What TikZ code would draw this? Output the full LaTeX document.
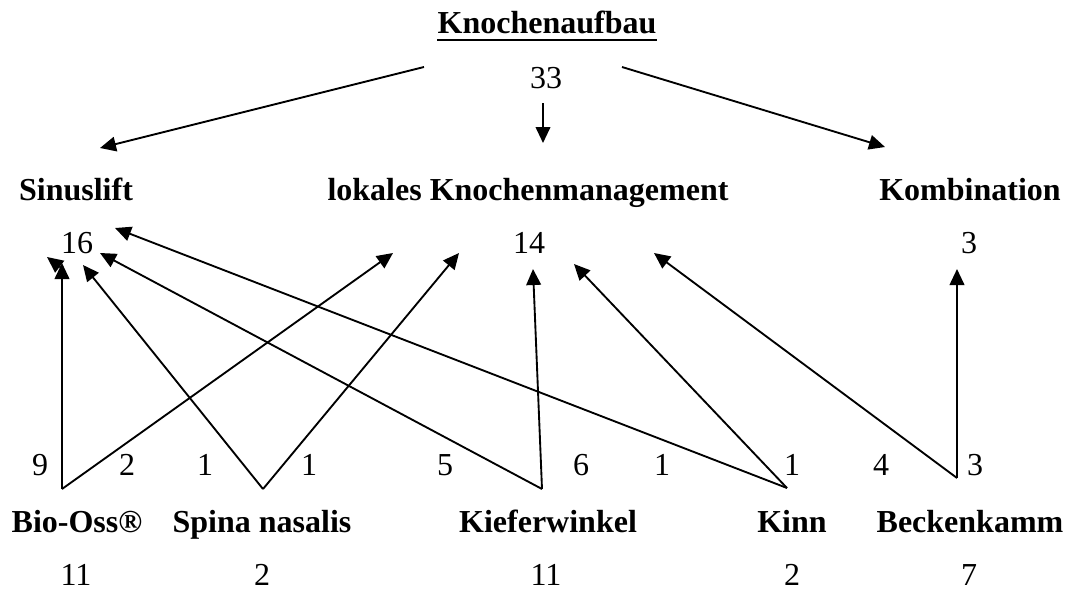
\documentclass[tikz,border=0pt]{standalone}
\usepackage{fontspec}
\setmainfont{Liberation Serif}
\usetikzlibrary{arrows.meta}

\begin{document}
\begin{tikzpicture}[x=0.75pt,y=-0.75pt,
    lbl/.style={font=\fontsize{24}{28}\selectfont\bfseries, anchor=base, inner sep=0pt},
    num/.style={font=\fontsize{24}{28}\selectfont, anchor=base, inner sep=0pt},
    arr/.style={line width=1.4pt, -{Triangle[length=12pt,width=11pt]}}]
    \useasboundingbox (0,0) rectangle (1077,590);
    % Kopf
    \node[lbl] (titel) at (547,33) {Knochenaufbau};
    \draw[line width=1.6pt] ([yshift=-5pt]titel.south west) -- ([yshift=-5pt]titel.south east);
    \node[num] (n33) at (546,88) {33};
    % Gruppen
    \node[lbl] (sinus) at (76,200) {Sinuslift};
    \node[lbl] (lokal) at (528,200) {lokales Knochenmanagement};
    \node[lbl] (kombi) at (970,200) {Kombination};
    \node[num] (n16) at (77,253) {16};
    \node[num] (n14) at (529,253) {14};
    \node[num] (n3) at (969,253) {3};
    % Spender
    \node[lbl] (bio) at (77,532) {Bio-Oss®};
    \node[lbl] (spina) at (262,532) {Spina nasalis};
    \node[lbl] (kiefer) at (548,532) {Kieferwinkel};
    \node[lbl] (kinn) at (792,532) {Kinn};
    \node[lbl] (becken) at (970,532) {Beckenkamm};
    \node[num] (bioN) at (76,585) {11};
    \node[num] (spinaN) at (262,585) {2};
    \node[num] (kieferN) at (546,585) {11};
    \node[num] (kinnN) at (792,585) {2};
    \node[num] (beckenN) at (969,585) {7};
    % Anzahl je Pfeil
    \node[num] (a1) at (40,475) {9};
    \node[num] (a2) at (127,475) {2};
    \node[num] (a3) at (205,475) {1};
    \node[num] (a4) at (309,475) {1};
    \node[num] (a5) at (445,475) {5};
    \node[num] (a6) at (581,475) {6};
    \node[num] (a7) at (662,475) {1};
    \node[num] (a8) at (792,475) {1};
    \node[num] (a9) at (881,475) {4};
    \node[num] (a10) at (975,475) {3};
    % Ecken und Spitzen
    \coordinate (vBio) at (62,489);
    \coordinate (vSpina) at (263,489);
    \coordinate (vKiefer) at (542,489);
    \coordinate (vKinn) at (787,488);
    \coordinate (vBecken) at (957,478);
    \coordinate (oL) at (424,67);
    \coordinate (oM) at (543,103);
    \coordinate (oR) at (622,67);
    \coordinate (pSinus) at (100,148);
    \coordinate (pLokal) at (543,143);
    \coordinate (pKombi) at (885,147);
    \coordinate (s1) at (62,263);
    \coordinate (s2) at (83,265);
    \coordinate (s3) at (100,253);
    \coordinate (s4) at (115,228);
    \coordinate (l1) at (393,253);
    \coordinate (l2) at (459,253);
    \coordinate (l3) at (533,269);
    \coordinate (l4) at (574,264);
    \coordinate (l5) at (654,253);
    \coordinate (k1) at (957,269);
    % Pfeile oben
    \draw[arr] (oL) -- (pSinus);
    \draw[arr] (oM) -- (pLokal);
    \draw[arr] (oR) -- (pKombi);
    % Pfeile unten
    \draw[arr] (vBio) -- (s1);
    \draw[arr] (64,270) -- (47,257);
    \draw[arr] (vBio) -- (l1);
    \draw[arr] (vSpina) -- (s2);
    \draw[arr] (vSpina) -- (l2);
    \draw[arr] (vKiefer) -- (s3);
    \draw[arr] (vKiefer) -- (l3);
    \draw[arr] (vKinn) -- (s4);
    \draw[arr] (vKinn) -- (l4);
    \draw[arr] (vBecken) -- (l5);
    \draw[arr] (vBecken) -- (k1);
\end{tikzpicture}
\end{document}
